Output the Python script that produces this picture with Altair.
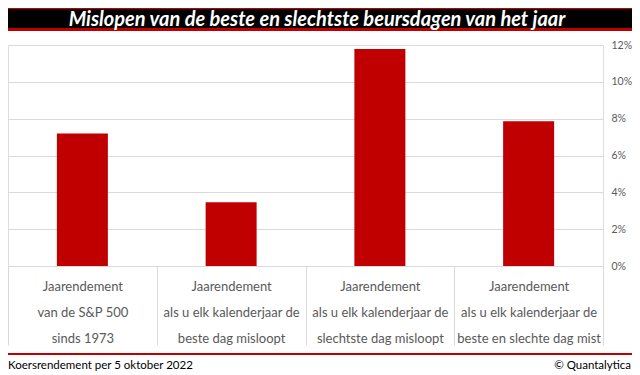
import altair as alt
import pandas as pd

categories = [
    "Jaarendement|van de S&P 500|sinds 1973",
    "Jaarendement|als u elk kalenderjaar de|beste dag misloopt",
    "Jaarendement|als u elk kalenderjaar de|slechtste dag misloopt",
    "Jaarendement|als u elk kalenderjaar de|beste en slechte dag mist",
]
values = [0.0719, 0.0346, 0.1178, 0.0786]
y_ticks = [0, 0.02, 0.04, 0.06, 0.08, 0.10, 0.12]
title_text = "Mislopen van de beste en slechtste beursdagen van het jaar"
footer_left = "Koersrendement per 5 oktober 2022"
footer_right = "© Quantalytica"

RED = "#c00000"
GREY = "#d9d9d9"
TXT = "#595959"

W, H = 595, 221
TOTAL_W = 624

df = pd.DataFrame({"cat": categories, "val": values})
one = pd.DataFrame({"a": [0]})

bars = alt.Chart(df).mark_bar(size=51, color=RED).encode(
    x=alt.X(
        "cat:N",
        sort=categories,
        scale=alt.Scale(paddingInner=0, paddingOuter=0, range=[0, W]),
        axis=alt.Axis(
            title=None,
            labelAngle=0,
            labelExpr="split(datum.label, '|')",
            labelFont="Lato",
            labelFontSize=13,
            labelColor=TXT,
            labelLineHeight=26,
            labelPadding=-65,
            labelBaseline="top",
            domainColor=GREY,
            tickColor=GREY,
            tickSize=79,
            tickBand="extent",
        ),
    ),
    y=alt.Y(
        "val:Q",
        scale=alt.Scale(domain=[0, 0.12], nice=False),
        axis=alt.Axis(
            title=None,
            orient="right",
            values=y_ticks,
            format=".0%",
            labelFont="Lato",
            labelFontSize=10.5,
            labelColor=TXT,
            labelPadding=8,
            domain=False,
            ticks=False,
            gridColor=GREY,
        ),
    ),
)

top_red = alt.Chart(one).mark_rect(color=RED).encode(
    x=alt.value(0), x2=alt.value(TOTAL_W), y=alt.value(-37), y2=alt.value(-36)
)
black_bar = alt.Chart(one).mark_rect(color="black").encode(
    x=alt.value(0), x2=alt.value(TOTAL_W), y=alt.value(-36), y2=alt.value(-17)
)
red_bar = alt.Chart(one).mark_rect(color=RED).encode(
    x=alt.value(0), x2=alt.value(TOTAL_W), y=alt.value(-17), y2=alt.value(-14)
)
title = alt.Chart(one).mark_text(
    color="white", font="Lato", fontSize=20, fontWeight="bold", fontStyle="italic",
    align="center", baseline="middle",
).encode(x=alt.value(309), y=alt.value(-25.5), text=alt.value(title_text))

foot_line = alt.Chart(one).mark_rect(color=RED).encode(
    x=alt.value(0), x2=alt.value(TOTAL_W), y=alt.value(308), y2=alt.value(310)
)
foot_l = alt.Chart(one).mark_text(
    color="black", font="Lato", fontSize=11.5, align="left", baseline="middle"
).encode(x=alt.value(0), y=alt.value(321), text=alt.value(footer_left))
foot_r = alt.Chart(one).mark_text(
    color="black", font="Lato", fontSize=11.5, align="right", baseline="middle"
).encode(x=alt.value(TOTAL_W - 1), y=alt.value(321), text=alt.value(footer_right))

chart = alt.layer(
    top_red, black_bar, red_bar, title, bars, foot_line, foot_l, foot_r
).properties(
    width=W, height=H,
    autosize=alt.AutoSizeParams(type="none"),
    padding={"left": 0, "top": 37, "right": TOTAL_W - W, "bottom": 367 - 37 - H},
).configure_view(stroke=None).configure(background="white")

chart.save("out.html", embed_options={"renderer": "svg", "actions": False})
